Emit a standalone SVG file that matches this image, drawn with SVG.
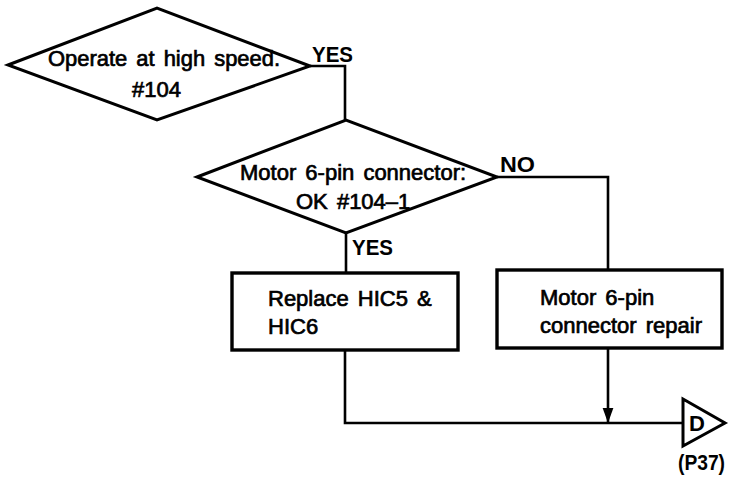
<svg xmlns="http://www.w3.org/2000/svg" width="732" height="483" viewBox="0 0 732 483">
<style>
.shape{fill:#fff;stroke:#000;stroke-width:3;stroke-linejoin:miter}
.box{fill:#fff;stroke:#000;stroke-width:3.4}
.line{fill:none;stroke:#000;stroke-width:2.6}
.t{font-family:"Liberation Sans",Arial,sans-serif;font-size:22px;fill:#000;stroke:#000;stroke-width:0.7;word-spacing:3px}
.lbl{font-family:"Liberation Sans",Arial,sans-serif;font-size:22px;font-weight:bold;fill:#000}
</style>
<defs>
<marker id="arr" markerWidth="15" markerHeight="21" refX="21" refY="7.5" orient="auto" markerUnits="userSpaceOnUse" viewBox="0 0 21 15">
<path d="M0,0 L21,7.5 L0,15 Z" fill="#000"/>
</marker>
</defs>
<g id="connectors">
<polyline class="line" points="310,66 345,66 345,120"/>
<line class="line" x1="346" y1="233" x2="346" y2="273"/>
<polyline class="line" points="497,177 608,177 608,270"/>
<line class="line" x1="608" y1="348" x2="608" y2="423" marker-end="url(#arr)"/>
<polyline class="line" points="345,350 345,423 683,423"/>
<text class="lbl" x="312" y="62" textLength="41" lengthAdjust="spacingAndGlyphs">YES</text>
<text class="lbl" x="352" y="255" textLength="41" lengthAdjust="spacingAndGlyphs">YES</text>
<text class="lbl" x="500" y="172" textLength="35" lengthAdjust="spacingAndGlyphs">NO</text>
</g>
<g id="d1">
<polygon class="shape" points="8,65 157,8 310,66 157,120"/>
<text class="t" x="48" y="66" textLength="232" lengthAdjust="spacingAndGlyphs">Operate at high speed.</text>
<text class="t" x="132" y="97">#104</text>
</g>
<g id="d2">
<polygon class="shape" points="197,177 346,120 497,177 346,233"/>
<text class="t" x="240" y="180">Motor 6-pin connector:</text>
<text class="t" x="296" y="209">OK #104–1</text>
</g>
<g id="b1">
<rect class="box" x="232" y="273" width="226" height="77"/>
<text class="t" x="268" y="306">Replace HIC5 &amp;</text>
<text class="t" x="268" y="334">HIC6</text>
</g>
<g id="b2">
<rect class="box" x="497" y="270" width="225" height="78"/>
<text class="t" x="540" y="305">Motor 6-pin</text>
<text class="t" x="540" y="333">connector repair</text>
</g>
<g id="offpage">
<polygon class="shape" points="683,399 725,423 683,446"/>
<text class="lbl" x="689" y="431">D</text>
<text class="lbl" x="678" y="470" textLength="47" lengthAdjust="spacingAndGlyphs">(P37)</text>
</g>
</svg>
